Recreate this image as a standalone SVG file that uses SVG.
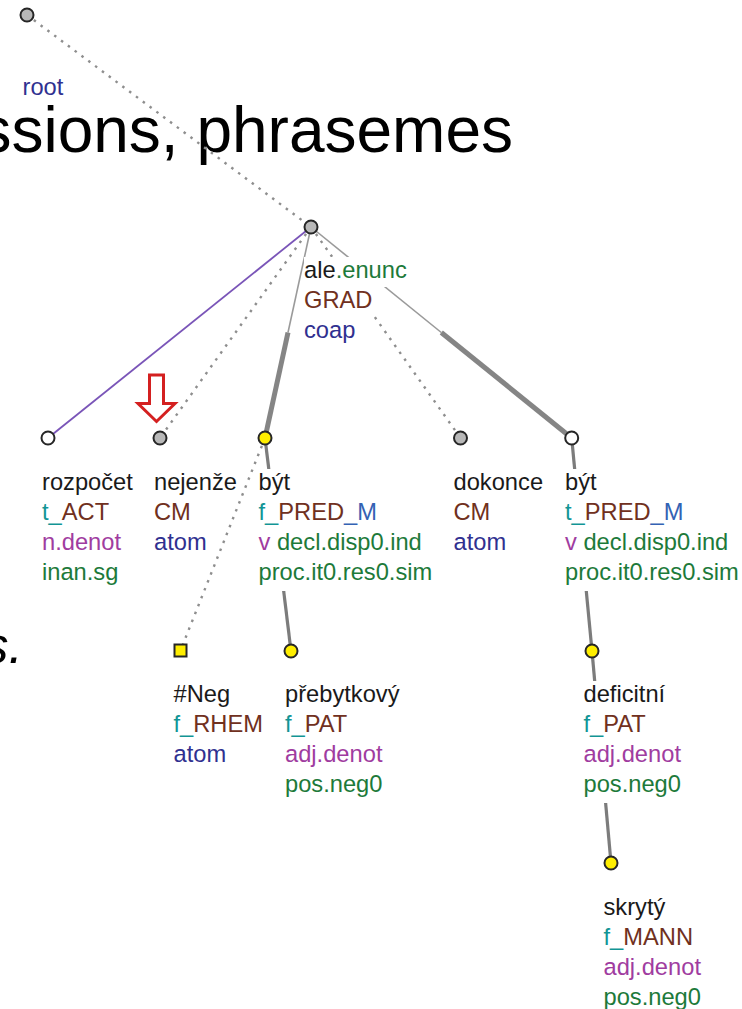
<svg xmlns="http://www.w3.org/2000/svg" width="742" height="1009" viewBox="0 0 742 1009">
<defs>
<style>
text{font-family:"Liberation Sans",Arial,sans-serif;}
.l{font-size:23.7px;fill:#1a1a1a;}
.bg{fill:#ffffff;}
.k{fill:#1a1a1a}.tl{fill:#129595}.br{fill:#703020}.bl{fill:#303090}.bm{fill:#3462b4}.pu{fill:#a03ca0}.gr{fill:#1d7a3a}
.dot{stroke:#8e8e8e;stroke-width:2.4;stroke-dasharray:2.5 6;fill:none;}
.thin{stroke:#9a9a9a;stroke-width:1.6;fill:none;}
.thick{stroke:#858585;stroke-width:5;fill:none;}
.mid{stroke:#7c7c7c;stroke-width:3.2;fill:none;}
.coord{stroke:#7a55b8;stroke-width:1.8;fill:none;}
.n{stroke:#262626;stroke-width:2;}
.gray{fill:#b8b8b8}.white{fill:#ffffff}.yel{fill:#ffee00}
</style>
</defs>
<rect x="0" y="0" width="742" height="1009" fill="#ffffff"/>
<g id="slide-text">
<text x="513" y="152" text-anchor="end" font-size="64" fill="#000">ssions, phrasemes</text>
<text x="23" y="663" text-anchor="end" font-size="52" font-style="italic" fill="#000">s.</text>
</g>
<g id="connectors">
<line class="dot" x1="27" y1="15" x2="311" y2="227"/>
<line class="coord" x1="311" y1="227" x2="48" y2="438"/>
<line class="dot" x1="311" y1="227" x2="160" y2="438"/>
<line class="thin" x1="311" y1="227" x2="288" y2="332.5"/>
<line class="thick" x1="288" y1="332.5" x2="265" y2="438"/>
<line class="dot" x1="311" y1="227" x2="460.5" y2="438"/>
<line class="thin" x1="311" y1="227" x2="441.3" y2="332.5"/>
<line class="thick" x1="441.3" y1="332.5" x2="571.7" y2="438"/>
<line class="dot" x1="265" y1="438" x2="180.5" y2="650.5"/>
<line class="mid" x1="265" y1="438" x2="291" y2="651"/>
<line class="mid" x1="571.7" y1="438" x2="592" y2="651"/>
<line class="mid" x1="592" y1="651" x2="611" y2="863"/>
</g>
<g id="node-root">
<circle class="n gray" cx="27" cy="15" r="6.5"/>
<rect class="bg" x="22" y="74" width="43" height="30"/>
<text class="l bl" x="22.5" y="95">root</text>
</g>
<g id="node-ale">
<circle class="n gray" cx="311" cy="227" r="6.5"/>
<rect class="bg" x="304" y="257" width="105" height="30"/>
<rect class="bg" x="304" y="287" width="70" height="30"/>
<rect class="bg" x="304" y="317" width="54" height="30"/>
<text class="l" x="304" y="278"><tspan class="k">ale</tspan><tspan class="gr">.enunc</tspan></text>
<text class="l br" x="304" y="308">GRAD</text>
<text class="l bl" x="304" y="338">coap</text>
</g>
<g id="node-rozpocet">
<circle class="n white" cx="48" cy="438" r="6.5"/>
<rect class="bg" x="41" y="469" width="93" height="30"/>
<rect class="bg" x="41" y="499" width="70" height="30"/>
<rect class="bg" x="41" y="529" width="82" height="30"/>
<rect class="bg" x="41" y="559" width="79" height="30"/>
<text class="l k" x="42" y="490">rozpočet</text>
<text class="l" x="42" y="520"><tspan class="tl">t_</tspan><tspan class="br">ACT</tspan></text>
<text class="l pu" x="42" y="550">n.denot</text>
<text class="l gr" x="42" y="580">inan.sg</text>
</g>
<g id="node-nejenze">
<circle class="n gray" cx="160" cy="438" r="6.5"/>
<rect class="bg" x="153" y="469" width="86" height="30"/>
<rect class="bg" x="153" y="499" width="40" height="30"/>
<rect class="bg" x="153" y="529" width="55" height="30"/>
<text class="l k" x="154" y="490">nejenže</text>
<text class="l br" x="154" y="520">CM</text>
<text class="l bl" x="154" y="550">atom</text>
</g>
<g id="node-byt1">
<circle class="n yel" cx="265" cy="438" r="6.5"/>
<rect class="bg" x="257" y="469" width="35" height="30"/>
<rect class="bg" x="257" y="499" width="121" height="30"/>
<rect class="bg" x="257" y="529" width="166" height="30"/>
<rect class="bg" x="257" y="559" width="177" height="32"/>
<text class="l k" x="258.5" y="490">být</text>
<text class="l" x="258.5" y="520"><tspan class="tl">f_</tspan><tspan class="br">PRED</tspan><tspan class="bm">_M</tspan></text>
<text class="l" x="258.5" y="550"><tspan class="pu">v</tspan> <tspan class="gr">decl.disp0.ind</tspan></text>
<text class="l gr" x="258.5" y="580">proc.it0.res0.sim</text>
</g>
<g id="node-dokonce">
<circle class="n gray" cx="460.5" cy="438" r="6.5"/>
<rect class="bg" x="452" y="469" width="92" height="30"/>
<rect class="bg" x="452" y="499" width="40" height="30"/>
<rect class="bg" x="452" y="529" width="55" height="30"/>
<text class="l k" x="453.5" y="490">dokonce</text>
<text class="l br" x="453.5" y="520">CM</text>
<text class="l bl" x="453.5" y="550">atom</text>
</g>
<g id="node-byt2">
<circle class="n white" cx="571.7" cy="438" r="6.5"/>
<rect class="bg" x="564" y="469" width="35" height="30"/>
<rect class="bg" x="564" y="499" width="121" height="30"/>
<rect class="bg" x="564" y="529" width="166" height="30"/>
<rect class="bg" x="564" y="559" width="177" height="32"/>
<text class="l k" x="565" y="490">být</text>
<text class="l" x="565" y="520"><tspan class="tl">t_</tspan><tspan class="br">PRED</tspan><tspan class="bm">_M</tspan></text>
<text class="l" x="565" y="550"><tspan class="pu">v</tspan> <tspan class="gr">decl.disp0.ind</tspan></text>
<text class="l gr" x="565" y="580">proc.it0.res0.sim</text>
</g>
<g id="node-neg">
<rect class="n yel" x="174.5" y="644.5" width="12" height="12"/>
<rect class="bg" x="172" y="681" width="60" height="30"/>
<rect class="bg" x="172" y="711" width="92" height="30"/>
<rect class="bg" x="172" y="741" width="55" height="30"/>
<text class="l k" x="173.5" y="702">#Neg</text>
<text class="l" x="173.5" y="732"><tspan class="tl">f_</tspan><tspan class="br">RHEM</tspan></text>
<text class="l bl" x="173.5" y="762">atom</text>
</g>
<g id="node-prebytkovy">
<circle class="n yel" cx="291" cy="651" r="6.5"/>
<rect class="bg" x="284" y="681" width="117" height="30"/>
<rect class="bg" x="284" y="711" width="68" height="30"/>
<rect class="bg" x="284" y="741" width="100" height="30"/>
<rect class="bg" x="284" y="771" width="100" height="32"/>
<text class="l k" x="285" y="702">přebytkový</text>
<text class="l" x="285" y="732"><tspan class="tl">f_</tspan><tspan class="br">PAT</tspan></text>
<text class="l pu" x="285" y="762">adj.denot</text>
<text class="l gr" x="285" y="792">pos.neg0</text>
</g>
<g id="node-deficitni">
<circle class="n yel" cx="592" cy="651" r="6.5"/>
<rect class="bg" x="582" y="681" width="85" height="30"/>
<rect class="bg" x="582" y="711" width="68" height="30"/>
<rect class="bg" x="582" y="741" width="100" height="30"/>
<rect class="bg" x="582" y="771" width="100" height="32"/>
<text class="l k" x="583.5" y="702">deficitní</text>
<text class="l" x="583.5" y="732"><tspan class="tl">f_</tspan><tspan class="br">PAT</tspan></text>
<text class="l pu" x="583.5" y="762">adj.denot</text>
<text class="l gr" x="583.5" y="792">pos.neg0</text>
</g>
<g id="node-skryty">
<circle class="n yel" cx="611" cy="863" r="6.5"/>
<rect class="bg" x="602" y="894" width="65" height="30"/>
<rect class="bg" x="602" y="924" width="92" height="30"/>
<rect class="bg" x="602" y="954" width="100" height="30"/>
<rect class="bg" x="602" y="984" width="100" height="25"/>
<text class="l k" x="603.5" y="915">skrytý</text>
<text class="l" x="603.5" y="945"><tspan class="tl">f_</tspan><tspan class="br">MANN</tspan></text>
<text class="l pu" x="603.5" y="975">adj.denot</text>
<text class="l gr" x="603.5" y="1005">pos.neg0</text>
</g>
<g id="arrow">
<polygon points="149.5,375 163.5,375 163.5,403.5 175,403.5 156.5,421.5 138,403.5 149.5,403.5" fill="#ffffff" stroke="#d42020" stroke-width="3" stroke-linejoin="miter"/>
</g>
</svg>
